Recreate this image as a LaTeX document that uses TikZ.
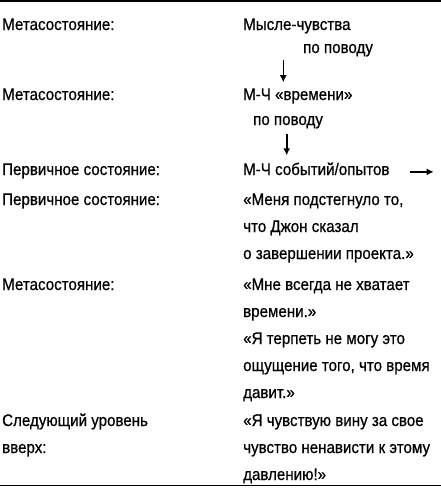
\documentclass[tikz,border=0pt]{standalone}
\usepackage{fontspec}
\setmainfont[FakeStretch=0.9,FakeBold=0.7]{Liberation Sans}
\usetikzlibrary{arrows.meta}

\begin{document}
\begin{tikzpicture}[x=1pt,y=-1pt,
  every node/.style={inner sep=0pt,anchor=base west,align=left,
    font=\fontsize{16.8}{27}\selectfont},
  arr/.style={line width=1.6pt,-{Latex[length=7pt,width=7pt]}}]
  \useasboundingbox (0,0) rectangle (441,488);
  \draw[line width=1.5pt] (0,1) -- (441,1);
  \draw[line width=1.5pt] (0,485.5) -- (441,485.5);

  \node (meta1) at (2,30) {Метасостояние:};
  \node (meta2) at (2,100) {Метасостояние:};
  \node (prim1) at (2,175) {Первичное состояние:};
  \node (prim2) at (2,205) {Первичное состояние:};
  \node (meta3) at (2,290) {Метасостояние:};
  \node (next) at (2,453) {Следующий уровень\\вверх:};

  \node (mf) at (243,30) {Мысле-чувства};
  \node (about1) at (303,53) {по поводу};
  \node (mftime) at (243,100) {М-Ч «времени»};
  \node (about2) at (253,125) {по поводу};
  \node (mfev) at (243,175) {М-Ч событий/опытов};
  \node (john) at (243,259) {«Меня подстегнуло то,\\что Джон сказал\\о завершении проекта.»};
  \node (time) at (243,398) {«Мне всегда не хватает\\времени.»\\«Я терпеть не могу это\\ощущение того, что время\\давит.»};
  \node (guilt) at (243,480) {«Я чувствую вину за свое\\чувство ненависти к этому\\давлению!»};

  \coordinate (a1) at (283.3,0);
  \coordinate (a2) at (286.7,0);
  \coordinate (out) at ([xshift=44,yshift=-3pt]mfev.east);
  \draw[arr,shorten <=3pt,shorten >=6pt] (about1.south -| a1) -- (mftime.north -| a1);
  \draw[arr,shorten <=5pt,shorten >=7pt] (about2.south -| a2) -- (mfev.north -| a2);
  \draw[arr] ([xshift=20,yshift=-3pt]mfev.east) -- (out);
\end{tikzpicture}
\end{document}
